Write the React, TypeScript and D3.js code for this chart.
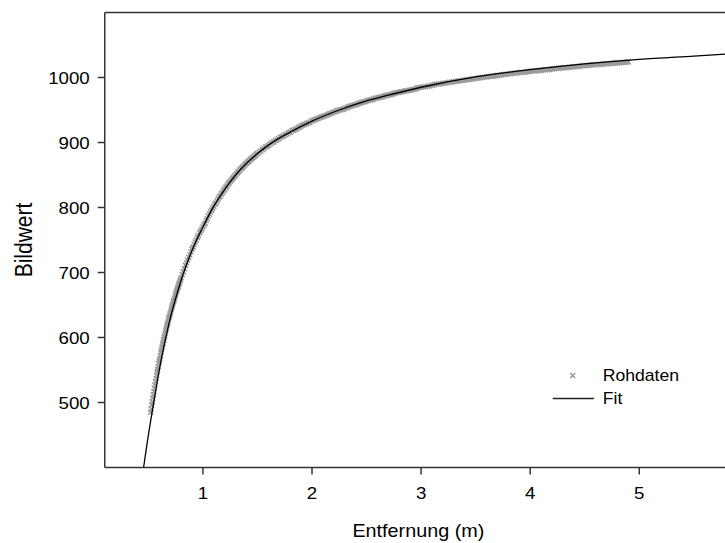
import React from 'react';
import * as d3 from 'd3';

// ---- data ----
const rawX: number[] = [
  0.520, 0.525, 0.530, 0.535, 0.540, 0.545, 0.550, 0.555, 0.560, 0.565, 0.570, 0.575, 0.580, 0.585, 0.590, 0.595,
  0.600, 0.605, 0.610, 0.615, 0.620, 0.625, 0.630, 0.635, 0.640, 0.645, 0.650, 0.655, 0.660, 0.665, 0.670, 0.675,
  0.680, 0.685, 0.690, 0.695, 0.700, 0.705, 0.710, 0.715, 0.720, 0.725, 0.730, 0.735, 0.740, 0.745, 0.750, 0.755,
  0.760, 0.765, 0.770, 0.775, 0.780, 0.785, 0.790, 0.795, 0.800,
  0.81, 0.82, 0.83, 0.84, 0.85, 0.86, 0.87, 0.88, 0.89, 0.90, 0.91, 0.92, 0.93, 0.94, 0.95, 0.96, 0.97, 0.98, 0.99,
  1.00, 1.01, 1.02, 1.03, 1.04, 1.05, 1.06, 1.07, 1.08, 1.09, 1.10, 1.11, 1.12, 1.13, 1.14, 1.15, 1.16, 1.17, 1.18,
  1.19, 1.20, 1.21, 1.22, 1.23, 1.24, 1.25, 1.26, 1.27, 1.28, 1.29, 1.30, 1.31, 1.32, 1.33, 1.34, 1.35, 1.36, 1.37,
  1.38, 1.39, 1.40, 1.41, 1.42, 1.43, 1.44, 1.45, 1.46, 1.47, 1.48, 1.49,
  1.500, 1.515, 1.530, 1.545, 1.560, 1.575, 1.590, 1.605, 1.620, 1.635, 1.650, 1.665, 1.680, 1.695, 1.710, 1.725,
  1.740, 1.755, 1.770, 1.785, 1.800, 1.815, 1.830, 1.845, 1.860, 1.875, 1.890, 1.905, 1.920, 1.935, 1.950, 1.965,
  1.980, 1.995, 2.010, 2.025, 2.040, 2.055, 2.070, 2.085, 2.100, 2.115, 2.130, 2.145, 2.160, 2.175, 2.190, 2.205,
  2.220, 2.235, 2.250, 2.265, 2.280, 2.295, 2.310, 2.325, 2.340, 2.355, 2.370, 2.385, 2.400, 2.415, 2.430, 2.445,
  2.460, 2.475, 2.490, 2.505, 2.520, 2.535, 2.550, 2.565, 2.580, 2.595, 2.610, 2.625, 2.640, 2.655, 2.670, 2.685,
  2.700, 2.715, 2.730, 2.745, 2.760, 2.775, 2.790, 2.805, 2.820, 2.835, 2.850, 2.865, 2.880, 2.895, 2.910, 2.925,
  2.940, 2.955, 2.970, 2.985,
  3.00, 3.02, 3.04, 3.06, 3.08, 3.10, 3.12, 3.14, 3.16, 3.18, 3.20, 3.22, 3.24, 3.26, 3.28, 3.30, 3.32, 3.34, 3.36,
  3.38, 3.40, 3.42, 3.44, 3.46, 3.48, 3.50, 3.52, 3.54, 3.56, 3.58, 3.60, 3.62, 3.64, 3.66, 3.68, 3.70, 3.72, 3.74,
  3.76, 3.78, 3.80, 3.82, 3.84, 3.86, 3.88, 3.90, 3.92, 3.94, 3.96, 3.98, 4.00, 4.02, 4.04, 4.06, 4.08, 4.10, 4.12,
  4.14, 4.16, 4.18, 4.20, 4.22, 4.24, 4.26, 4.28, 4.30, 4.32, 4.34, 4.36, 4.38, 4.40, 4.42, 4.44, 4.46, 4.48, 4.50,
  4.52, 4.54, 4.56, 4.58, 4.60, 4.62, 4.64, 4.66, 4.68, 4.70, 4.72, 4.74, 4.76, 4.78, 4.80, 4.82, 4.84, 4.86, 4.88,
  4.90,
];
const rawY: number[] = [
  485, 490, 496, 501, 507, 512, 517, 522, 527, 532, 537, 542, 547, 551, 555, 560,
  564, 568, 572, 577, 581, 585, 589, 592, 596, 600, 603, 607, 611, 614, 618, 621,
  624, 628, 631, 634, 637, 640, 643, 646, 649, 652, 655, 657, 660, 663, 666, 669,
  672, 674, 677, 679, 682, 684, 687, 689, 692,
  697, 701, 706, 711, 715, 719, 723, 727, 732, 736, 739, 743, 747, 750, 754, 757, 761, 764, 767,
  770, 773, 776, 780, 783, 787, 790, 793, 796, 799, 802, 805, 807, 810, 813, 816, 818, 821, 823,
  826, 828, 831, 833, 836, 838, 840, 842, 844, 846, 848, 850, 852, 854, 856, 858, 860, 861, 863,
  865, 867, 868, 870, 871, 873, 874, 876, 877, 879, 880, 882,
  883, 885, 887, 889, 891, 893, 894, 896, 898, 900, 901, 903, 904, 906, 908, 909,
  910, 912, 913, 915, 916, 918, 919, 920, 921, 923, 924, 926, 927, 928, 929, 930,
  931, 933, 934, 935, 936, 937, 938, 939, 940, 941, 942, 943, 944, 945, 946, 947,
  948, 949, 950, 950.5, 951, 952, 953, 954, 955, 956, 957, 957.5, 958, 959, 960, 961,
  962, 962.5, 963, 964, 965, 965.5, 966, 967, 968, 968.5, 969, 969.5, 970, 971, 972, 972.5,
  973, 973.5, 974, 975, 976, 976.5, 977, 977.5, 978, 978.5, 979, 979.5, 980, 980.5, 981, 981.5,
  982, 983, 984, 984.5,
  985, 985.5, 986, 986.5, 987, 988, 989, 989.5, 990, 990.5, 991, 991.5, 992, 992.5, 993, 993.5, 994, 994.5, 995,
  995.5, 996, 996.5, 997, 997.5, 998, 998.5, 999, 999.5, 1000, 1000.5, 1001, 1001.5, 1002, 1002, 1002.5, 1003, 1003.5, 1004,
  1004.5, 1005, 1005.5, 1006, 1006.5, 1007, 1007, 1007.5, 1008, 1008, 1008.5, 1009, 1009.5, 1010, 1010, 1010.5, 1011, 1011, 1011.5,
  1012, 1012, 1012.5, 1013, 1013.5, 1014, 1014, 1014.5, 1015, 1015, 1015.5, 1016, 1016, 1016.5, 1017, 1017, 1017.5, 1018, 1018,
  1018.5, 1019, 1019, 1019.5, 1019.5, 1020, 1020, 1020.5, 1021, 1021, 1021.5, 1021.5, 1022, 1022, 1022.5, 1022.5, 1023, 1023, 1023.5,
  1024,
];
const fitX: number[] = [
  0.456, 0.48, 0.50, 0.53, 0.56, 0.60, 0.65, 0.70, 0.75, 0.80, 0.90, 1.00, 1.10, 1.20, 1.30, 1.40, 1.50, 1.60,
  1.80, 2.00, 2.25, 2.50, 2.75, 3.00, 3.50, 4.00, 4.50, 5.00, 5.50, 6.00,
];
const fitY: number[] = [
  400, 428, 450, 481, 511, 550, 592, 629, 660, 688, 734, 770, 802, 828, 850, 868, 883, 896,
  916, 933, 950, 964, 975, 985, 1001, 1012, 1021, 1028, 1033, 1038,
];
const xTicks: number[] = [1, 2, 3, 4, 5];
const yTicks: number[] = [500, 600, 700, 800, 900, 1000];
const xLabel = 'Entfernung (m)';
const yLabel = 'Bildwert';
const legendRaw = 'Rohdaten';
const legendFit = 'Fit';

// ---- layout ----
const W = 725;
const H = 543;
const plot = { left: 104.75, right: 732, top: 12.5, bottom: 467.5 };
const FONT = "'Liberation Sans', Arial, Helvetica, sans-serif";
const SX = 1.1; // horizontal stretch of the reference's text
const AXIS = '#333333';
const GRAY = '#9a9a9a';
const MARK = 'M-2.5,-2.5L2.5,2.5M-2.5,2.5L2.5,-2.5';

export default function App() {
  const x = d3.scaleLinear().domain([0.1, 5.85]).range([plot.left, plot.right]);
  const y = d3.scaleLinear().domain([400, 1100]).range([plot.bottom, plot.top]);

  const raw = rawX.map((v, i) => [v, rawY[i]] as [number, number]);
  const fit = fitX.map((v, i) => [v, fitY[i]] as [number, number]);
  const line = d3
    .line<[number, number]>()
    .x((d) => x(d[0]))
    .y((d) => y(d[1]))
    .curve(d3.curveMonotoneX);

  const cx = (plot.left + plot.right) / 2;
  const cy = (plot.top + plot.bottom) / 2;

  return (
    <svg
      width={W}
      height={H}
      viewBox={`0 0 ${W} ${H}`}
      style={{ position: 'absolute', left: 0, top: 0, background: '#fff' }}
      fontFamily={FONT}
    >
      <rect x={0} y={0} width={W} height={H} fill="#fff" />
      <defs>
        <clipPath id="plotClip">
          <rect x={plot.left} y={plot.top} width={plot.right - plot.left} height={plot.bottom - plot.top} />
        </clipPath>
      </defs>

      {/* data markers */}
      <g clipPath="url(#plotClip)">
        {raw.map((d, i) => (
          <path
            key={i}
            d={MARK}
            transform={`translate(${x(d[0])},${y(d[1])})`}
            stroke={GRAY}
            strokeWidth={1.5}
            fill="none"
          />
        ))}
        <path d={line(fit) ?? ''} fill="none" stroke="#000" strokeWidth={1.3} />
      </g>

      {/* frame / axes */}
      <line x1={plot.left} x2={plot.left} y1={plot.top} y2={plot.bottom} stroke={AXIS} strokeWidth={1.5} />
      <line x1={plot.left} x2={plot.right} y1={plot.bottom} y2={plot.bottom} stroke={AXIS} strokeWidth={1.5} />
      <line x1={plot.left} x2={plot.right} y1={plot.top} y2={plot.top} stroke={AXIS} strokeWidth={1.5} />
      <line x1={plot.right} x2={plot.right} y1={plot.top} y2={plot.bottom} stroke={AXIS} strokeWidth={1.5} />

      {/* y ticks */}
      {yTicks.map((t) => (
        <g key={t}>
          <line x1={plot.left - 7} x2={plot.left} y1={y(t)} y2={y(t)} stroke={AXIS} strokeWidth={1.5} />
          <text
            transform={`translate(${plot.left - 15},${y(t)}) scale(${SX},1)`}
            textAnchor="end"
            dy="0.36em"
            fontSize={17}
            fill="#000"
          >
            {t}
          </text>
        </g>
      ))}

      {/* x ticks */}
      {xTicks.map((t) => (
        <g key={t}>
          <line x1={x(t)} x2={x(t)} y1={plot.bottom} y2={plot.bottom + 7} stroke={AXIS} strokeWidth={1.5} />
          <text
            transform={`translate(${x(t)},499) scale(${SX},1)`}
            textAnchor="middle"
            fontSize={17}
            fill="#000"
          >
            {t}
          </text>
        </g>
      ))}

      {/* axis titles */}
      <text transform={`translate(${cx},537) scale(${SX},1)`} textAnchor="middle" fontSize={18} fill="#000">
        {xLabel}
      </text>
      <text
        transform={`translate(31.5,${cy}) rotate(-90) scale(1,${SX})`}
        textAnchor="middle"
        fontSize={21}
        fill="#000"
      >
        {yLabel}
      </text>

      {/* legend */}
      <path d={MARK} transform="translate(572.7,375.5)" stroke={GRAY} strokeWidth={1.5} fill="none" />
      <text transform={`translate(602.8,381) scale(${SX},1)`} fontSize={16} fill="#000">
        {legendRaw}
      </text>
      <line x1={552.7} x2={594} y1={398.5} y2={398.5} stroke="#222" strokeWidth={1.3} />
      <text transform={`translate(602.8,404) scale(${SX},1)`} fontSize={16} fill="#000">
        {legendFit}
      </text>
    </svg>
  );
}
